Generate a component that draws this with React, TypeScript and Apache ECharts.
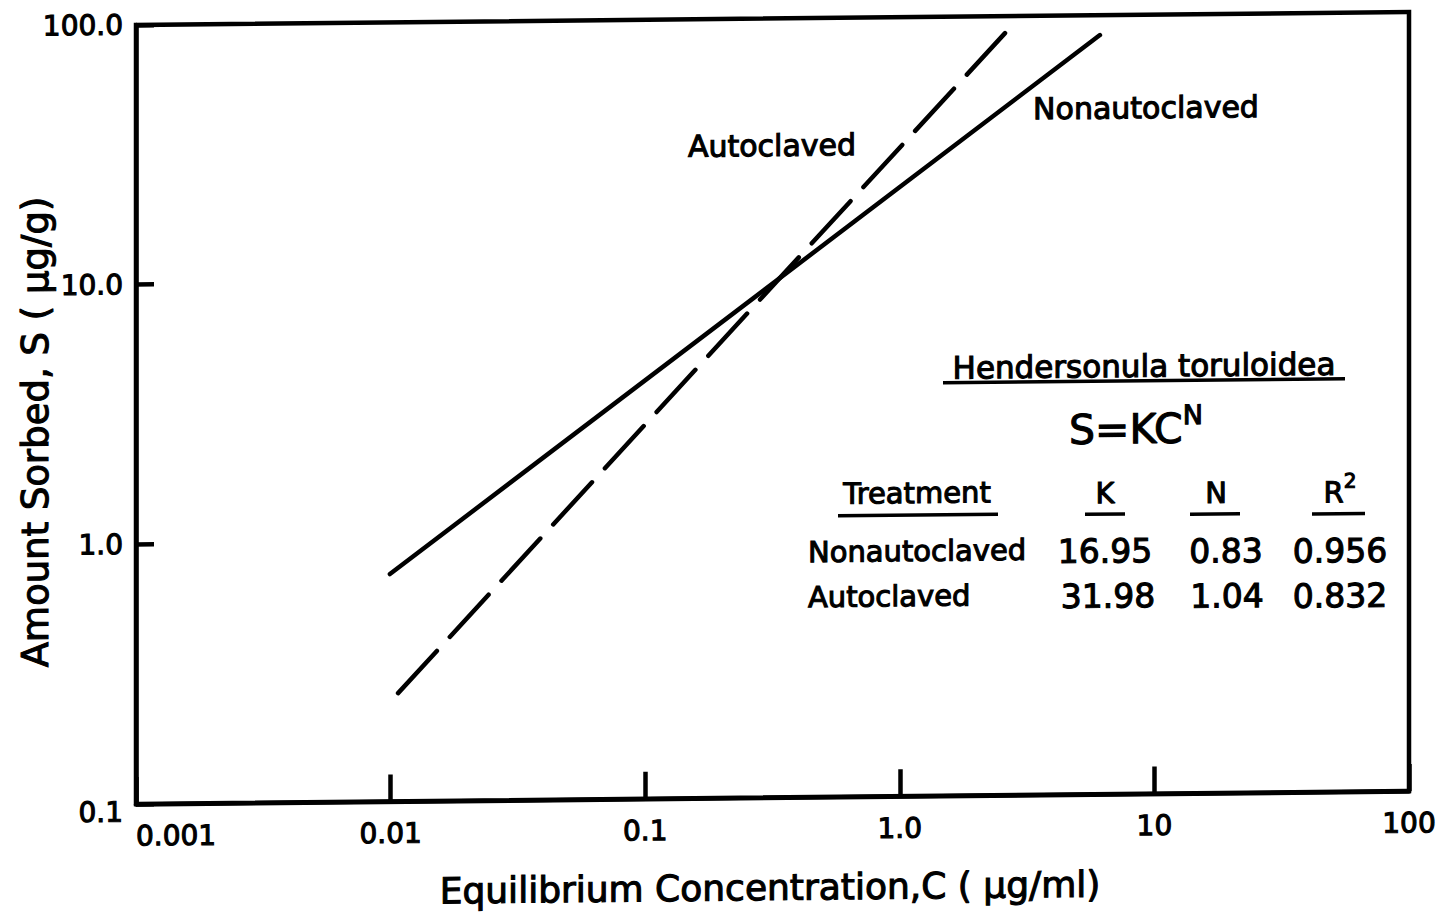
import React, { useEffect, useRef } from 'react';
import * as echarts from 'echarts';

const xTickValues = [0.001, 0.01, 0.1, 1, 10, 100];
const xTickLabels = ['0.001', '0.01', '0.1', '1.0', '10', '100'];
const yTickValues = [0.1, 1, 10, 100];
const yTickLabels = ['0.1', '1.0', '10.0', '100.0'];

const nonautoC = [0.00994, 6.11];
const nonautoS = [0.751, 83.8];
const autoC = [0.0107, 2.59];
const autoS = [0.261, 86.0];

const speciesName = 'Hendersonula toruloidea';
const treatments = ['Nonautoclaved', 'Autoclaved'];
const kValues = ['16.95', '31.98'];
const nValues = ['0.83', '1.04'];
const r2Values = ['0.956', '0.832'];

const FONT = '"DejaVu Sans", "Liberation Sans", sans-serif';
const SW = 1.1;

function lookup(values: number[], labels: string[], v: number) {
  const i = values.findIndex((t) => Math.abs(Math.log10(t) - Math.log10(v)) < 1e-6);
  return i >= 0 ? labels[i] : '';
}

export default function App() {
  const ref = useRef<HTMLDivElement>(null);
  useEffect(() => {
    if (!ref.current) return;
    const chart = echarts.init(ref.current, null, { renderer: 'svg' });
    const txt = (text: string, x: number, y: number, size: number, align = 'center', extra: any = {}) => ({
      type: 'text',
      x,
      y,
      style: {
        text,
        font: `${size}px ${FONT}`,
        fill: '#000',
        stroke: '#000',
        lineWidth: SW,
        align,
        verticalAlign: 'middle',
        ...extra,
      },
    });
    const uline = (x1: number, x2: number, y: number) => ({
      type: 'line',
      shape: { x1, y1: y, x2, y2: y },
      style: { stroke: '#000', lineWidth: 3.5 },
    });
    const tickLabelStyle = {
      fontSize: 28,
      fontFamily: FONT,
      color: '#000',
      textBorderColor: '#000',
      textBorderWidth: SW,
    };
    const option: any = {
      animation: false,
      backgroundColor: '#fff',
      grid: { left: 136, right: 38, top: 19, bottom: 121, show: true, borderColor: '#000', borderWidth: 4.5 },
      xAxis: {
        type: 'log',
        logBase: 10,
        min: 0.001,
        max: 100,
        axisLine: { show: true, lineStyle: { color: '#000', width: 4.5 } },
        axisTick: { show: true, inside: true, length: 27, lineStyle: { color: '#000', width: 4.5 } },
        axisLabel: {
          formatter: (v: number) => lookup(xTickValues, xTickLabels, v),
          ...tickLabelStyle,
          margin: 18,
          showMinLabel: true,
          showMaxLabel: true,
          alignMinLabel: 'left',
        },
        splitLine: { show: false },
        minorTick: { show: false },
      },
      yAxis: {
        type: 'log',
        logBase: 10,
        min: 0.1,
        max: 100,
        axisLine: { show: true, lineStyle: { color: '#000', width: 4.5 } },
        axisTick: { show: true, inside: true, length: 18, lineStyle: { color: '#000', width: 4.5 } },
        axisLabel: {
          formatter: (v: number) => {
            const s = lookup(yTickValues, yTickLabels, v);
            return Math.abs(v - 0.1) < 1e-9 ? `{lo|${s}}` : `{n|${s}}`;
          },
          rich: {
            lo: { ...tickLabelStyle, padding: [16, 0, 0, 0] },
            n: { ...tickLabelStyle },
          },
          ...tickLabelStyle,
          margin: 13,
          showMinLabel: true,
          showMaxLabel: true,
        },
        splitLine: { show: false },
        minorTick: { show: false },
      },
      series: [
        {
          name: 'Nonautoclaved',
          type: 'line',
          data: nonautoC.map((c, i) => [c, nonautoS[i]]),
          symbol: 'none',
          lineStyle: { color: '#000', width: 4.5, cap: 'round' },
        },
        {
          name: 'Autoclaved',
          type: 'line',
          data: autoC.map((c, i) => [c, autoS[i]]),
          symbol: 'none',
          lineStyle: { color: '#000', width: 4.5, cap: 'round', type: [57, 19] },
        },
      ],
      graphic: [
        txt('Autoclaved', 772, 146, 30),
        txt('Nonautoclaved', 1146, 112, 30),
        txt(speciesName, 1144, 370, 31),
        uline(943, 1345, 385),
        {
          type: 'text',
          x: 1136,
          y: 430,
          style: {
            text: '{m|S=KC}{s|N}',
            align: 'center',
            verticalAlign: 'middle',
            fill: '#000',
            rich: {
              m: { fontSize: 41, fontFamily: FONT, fill: '#000', stroke: '#000', lineWidth: SW, lineHeight: 48, verticalAlign: 'bottom' },
              s: { fontSize: 27, fontFamily: FONT, fill: '#000', stroke: '#000', lineWidth: SW, verticalAlign: 'top' },
            },
          },
        },
        txt('Treatment', 917, 495, 29),
        uline(838, 998, 517),
        txt('K', 1105, 497, 29),
        uline(1085, 1125, 518),
        txt('N', 1216, 498, 29),
        uline(1190, 1240, 519),
        {
          type: 'text',
          x: 1340,
          y: 495,
          style: {
            text: '{r|R}{s|2}',
            align: 'center',
            verticalAlign: 'middle',
            fill: '#000',
            rich: {
              r: { fontSize: 29, fontFamily: FONT, fill: '#000', stroke: '#000', lineWidth: SW, lineHeight: 36, verticalAlign: 'bottom' },
              s: { fontSize: 20, fontFamily: FONT, fill: '#000', stroke: '#000', lineWidth: SW, verticalAlign: 'top' },
            },
          },
        },
        uline(1312, 1365, 520),
        txt(treatments[0], 808, 553, 29, 'left'),
        txt(treatments[1], 808, 598, 29, 'left'),
        txt(kValues[0], 1105, 555, 33),
        txt(kValues[1], 1108, 600, 33),
        txt(nValues[0], 1226, 556, 33),
        txt(nValues[1], 1227, 601, 33),
        txt(r2Values[0], 1340, 557, 33),
        txt(r2Values[1], 1340, 602, 33),
        txt('Equilibrium Concentration,C ( µg/ml)', 770, 888, 36),
        { ...txt('Amount Sorbed, S ( µg/g)', 36, 425, 37), rotation: Math.PI / 2 },
      ],
    };
    chart.setOption(option);
    return () => chart.dispose();
  }, []);
  return (
    <div
      ref={ref}
      style={{
        position: 'absolute',
        left: 0,
        top: 0,
        width: 1447,
        height: 919,
        transform: 'skewY(-0.585deg)',
        transformOrigin: '723.5px 459.5px',
      }}
    />
  );
}
